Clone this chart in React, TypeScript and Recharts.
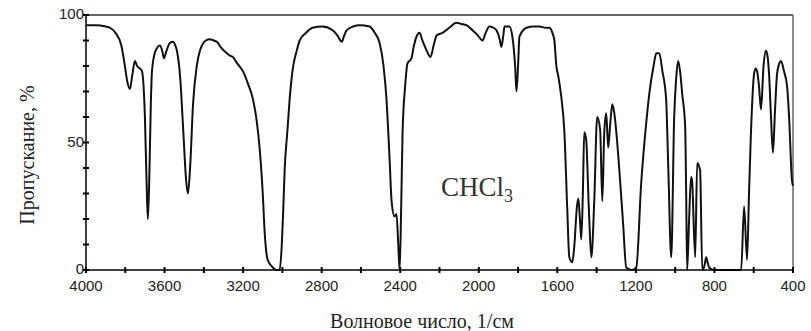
import * as React from 'react';
import { LineChart, Line, XAxis, YAxis, ReferenceLine } from 'recharts';

// IR spectrum of CHCl3
const wavenumbers = [
  4000, 3950, 3900, 3878, 3850, 3820, 3802, 3790, 3776, 3765, 3751, 3740, 3725, 3715, 3700, 3690, 3685, 3678, 3670, 3664,
  3650, 3639, 3624, 3612, 3603, 3590, 3573, 3557, 3545, 3537, 3520, 3505, 3490, 3481, 3470, 3455, 3436, 3420, 3410, 3390,
  3369, 3350, 3334, 3310, 3283, 3265, 3252, 3230, 3201, 3175, 3150, 3130, 3115, 3100, 3090, 3075, 3049, 3030, 3014, 3003,
  2995, 2988, 2975, 2963, 2947, 2927, 2912, 2880, 2846, 2795, 2744, 2720, 2698, 2685, 2673, 2640, 2607, 2556, 2530, 2505,
  2485, 2470, 2455, 2444, 2429, 2419, 2410, 2403, 2395, 2388, 2375, 2363, 2343, 2330, 2317, 2302, 2287, 2265, 2246, 2230,
  2215, 2185, 2150, 2114, 2090, 2063, 2032, 2005, 1981, 1965, 1946, 1925, 1910, 1895, 1885, 1875, 1869, 1844, 1829, 1815,
  1808, 1800, 1793, 1757, 1720, 1691, 1660, 1641, 1625, 1615, 1605, 1595, 1580, 1564, 1550, 1539, 1524, 1514, 1500, 1493,
  1485, 1478, 1470, 1463, 1453, 1440, 1427, 1412, 1397, 1382, 1371, 1361, 1351, 1341, 1330, 1320, 1310, 1285, 1265, 1249,
  1219, 1198, 1173, 1147, 1132, 1110, 1096, 1081, 1065, 1046, 1035, 1020, 1005, 995, 985, 975, 964, 949, 944, 939,
  929, 919, 914, 898, 888, 873, 862, 850, 842, 835, 827, 802, 700, 664, 649, 634, 624, 614, 598, 590,
  583, 573, 563, 550, 538, 530, 522, 512, 502, 492, 481, 470, 461, 446, 430, 420, 405, 400,
];

const transmittance = [
  96, 96, 95.5, 95, 93, 88, 80, 74, 71, 76, 82, 80, 79, 78, 60, 30, 20, 35, 65, 78,
  85, 87, 88, 86, 83, 86, 89, 89.5, 88, 86, 75, 55, 35, 30, 40, 65, 80, 86, 88, 90,
  90.5, 90, 89.5, 87, 85, 84, 83.5, 81, 78, 73, 67, 58, 47, 30, 14.5, 4, 1, 0, 0, 10,
  25, 40, 54, 67, 79, 86, 90, 93, 95, 95.5, 94, 92, 89.5, 92, 94, 95.5, 96, 95.5, 93, 89,
  80, 67, 45, 27, 21, 22, 10, 0, 25, 54, 72, 81, 83, 88, 91.5, 93, 90, 86, 83.5, 88,
  92, 93, 95, 97, 96.5, 96, 94, 92, 90, 93, 95.5, 95, 94, 91, 87.5, 92, 95.5, 95.5, 91.5, 80,
  70, 80, 91.5, 95, 95.5, 95.5, 95, 95, 93, 90, 80, 76, 68, 54, 25, 5, 3, 9, 25, 28,
  20, 12, 30, 54, 51, 25, 5, 27, 60, 55, 27, 54, 61.5, 48, 58, 65, 61.5, 40, 18, 1,
  0, 1, 34, 58, 69, 80, 85, 85, 78, 67, 40, 5, 60, 75, 82, 78, 69, 56, 30, 0,
  20, 36.5, 35, 5, 42, 39, 0, 2, 5, 3, 1, 0, 0, 0, 25, 4, 30, 54, 77, 79,
  78, 72, 63, 80, 86, 84, 77, 60, 46, 62, 77, 81, 82, 78, 72, 60, 35, 33,
];

const xTicks = [4000, 3800, 3600, 3400, 3200, 3000, 2800, 2600, 2400, 2200, 2000, 1800, 1600, 1400, 1200, 1000, 800, 600, 400];
const xLabelTicks = [4000, 3600, 3200, 2800, 2400, 2000, 1600, 1200, 800, 400];
const yTicks = [0, 10, 20, 30, 40, 50, 60, 70, 80, 90, 100];
const yLabelTicks = [0, 50, 100];

const data = wavenumbers.map((w, i) => ({ w, t: transmittance[i] }));

const tickFont = '"Liberation Sans", Arial, sans-serif';
const titleFont = '"Liberation Serif", "Times New Roman", serif';

const XTick = (props: any) => {
  const { x, y, payload } = props;
  const show = xLabelTicks.includes(payload.value);
  return (
    <g>
      <line x1={x} x2={x} y1={y - 3} y2={y + 3} stroke="#000" strokeWidth={2} />
      {show && (
        <text x={x} y={y + 21} textAnchor="middle" fontSize={15} fontFamily={tickFont} fill="#222">
          {payload.value}
        </text>
      )}
    </g>
  );
};

const YTick = (props: any) => {
  const { x, y, payload } = props;
  const show = yLabelTicks.includes(payload.value);
  return (
    <g>
      <line x1={x - 3} x2={x + 3} y1={y} y2={y} stroke="#000" strokeWidth={2} />
      {show && (
        <text x={x - 2} y={y + 4} textAnchor="end" fontSize={15} fontFamily={tickFont} fill="#222">
          {payload.value}
        </text>
      )}
    </g>
  );
};

export default function App() {
  return (
    <div style={{ position: 'absolute', left: 0, top: 0, width: 811, height: 331, background: '#fff' }}>
      <LineChart
        width={811}
        height={331}
        data={data}
        margin={{ top: 15, right: 18, bottom: 31, left: 46 }}
      >
        <XAxis
          dataKey="w"
          type="number"
          domain={[400, 4000]}
          reversed
          ticks={xTicks}
          interval={0}
          tick={<XTick />}
          tickLine={false}
          tickSize={0}
          tickMargin={0}
          height={30}
          stroke="#000"
          strokeWidth={1.5}
        />
        <YAxis
          type="number"
          domain={[0, 100]}
          ticks={yTicks}
          interval={0}
          tick={<YTick />}
          tickLine={false}
          tickSize={0}
          tickMargin={0}
          width={40}
          stroke="#000"
          strokeWidth={1.5}
        />
        <ReferenceLine y={100} stroke="#666" strokeWidth={2} />
        <ReferenceLine x={400} stroke="#666" strokeWidth={1.5} />
        <Line
          type="monotone"
          dataKey="t"
          stroke="#111"
          strokeWidth={2}
          dot={false}
          isAnimationActive={false}
        />
      </LineChart>
      <div
        style={{
          position: 'absolute',
          left: 27,
          top: 155,
          transform: 'translate(-50%, -50%) rotate(-90deg)',
          whiteSpace: 'nowrap',
          fontFamily: titleFont,
          fontSize: 20,
          color: '#222',
        }}
      >
        Пропускание, %
      </div>
      <div
        style={{
          position: 'absolute',
          left: 422,
          top: 321,
          transform: 'translate(-50%, -50%)',
          whiteSpace: 'nowrap',
          fontFamily: titleFont,
          fontSize: 20,
          color: '#222',
        }}
      >
        Волновое число, 1/см
      </div>
      <div
        style={{
          position: 'absolute',
          left: 441,
          top: 174,
          whiteSpace: 'nowrap',
          fontFamily: titleFont,
          fontSize: 27,
          color: '#333',
          lineHeight: 1,
        }}
      >
        CHCl<sub style={{ fontSize: 18, verticalAlign: '-0.35em' }}>3</sub>
      </div>
    </div>
  );
}
